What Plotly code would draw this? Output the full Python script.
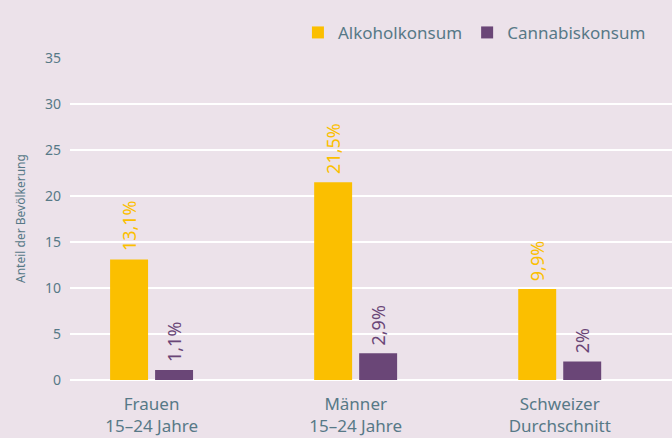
import plotly.graph_objects as go

categories = ["Frauen<br>15–24 Jahre", "Männer<br>15–24 Jahre", "Schweizer<br>Durchschnitt"]
alkohol = [13.1, 21.5, 9.9]
cannabis = [1.1, 2.9, 2.0]
alkohol_labels = ["13,1%", "21,5%", "9,9%"]
cannabis_labels = ["1,1%", "2,9%", "2%"]
y_ticks = [0, 5, 10, 15, 20, 25, 30, 35]

YELLOW = "#fbbf00"
PURPLE = "#6a4677"
TEXT = "#577987"
BG = "#ece2ea"
FONT = "Noto Sans"

fig = go.Figure()
fig.add_trace(go.Bar(
    x=categories, y=alkohol, name="Alkoholkonsum",
    marker=dict(color=YELLOW, line=dict(width=0)),
    width=0.186, offset=-0.2035,
))
fig.add_trace(go.Bar(
    x=categories, y=cannabis, name="Cannabiskonsum",
    marker=dict(color=PURPLE, line=dict(width=0)),
    width=0.186, offset=0.017,
))

annotations = []
for cat, v, lab in zip(categories, alkohol, alkohol_labels):
    annotations.append(dict(x=cat, y=v, text=lab, showarrow=False, textangle=-90,
                            xanchor="center", yanchor="bottom", xshift=-22.5, yshift=6,
                            font=dict(size=18, color=YELLOW, family=FONT)))
for cat, v, lab in zip(categories, cannabis, cannabis_labels):
    annotations.append(dict(x=cat, y=v, text=lab, showarrow=False, textangle=-90,
                            xanchor="center", yanchor="bottom", xshift=22.5, yshift=6,
                            font=dict(size=18, color=PURPLE, family=FONT)))
annotations.append(dict(xref="paper", yref="paper", x=0, y=0.5, xshift=-50,
                        text="Anteil der Bevölkerung", showarrow=False, textangle=-90,
                        xanchor="center", yanchor="middle",
                        font=dict(size=12, color=TEXT, family=FONT)))

fig.update_layout(
    width=672, height=438,
    paper_bgcolor=BG, plot_bgcolor=BG,
    margin=dict(l=70, r=0, t=58, b=58, autoexpand=False),
    font=dict(family=FONT, color=TEXT),
    showlegend=True,
    legend=dict(orientation="h", x=0.965, xanchor="right", y=1.078, yanchor="middle",
                font=dict(size=17, color=TEXT), bgcolor="rgba(0,0,0,0)",
                itemwidth=30, traceorder="normal"),
    annotations=annotations,
)
fig.update_xaxes(
    range=[-0.4, 2.55], showgrid=False, zeroline=False, showline=False, automargin=False,
    tickfont=dict(size=17, color=TEXT), ticks="", fixedrange=True, ticklabelstandoff=12,
)
fig.update_yaxes(
    range=[0, 35], tickvals=y_ticks, showgrid=True, gridcolor="white", gridwidth=2,
    zeroline=True, zerolinecolor="white", zerolinewidth=2, showline=False, automargin=False,
    tickfont=dict(size=14, color=TEXT), ticks="", ticklabelstandoff=8,
)

fig.write_html("out.html", config={"displayModeBar": False},
               post_script="document.body.style.margin='0';")
